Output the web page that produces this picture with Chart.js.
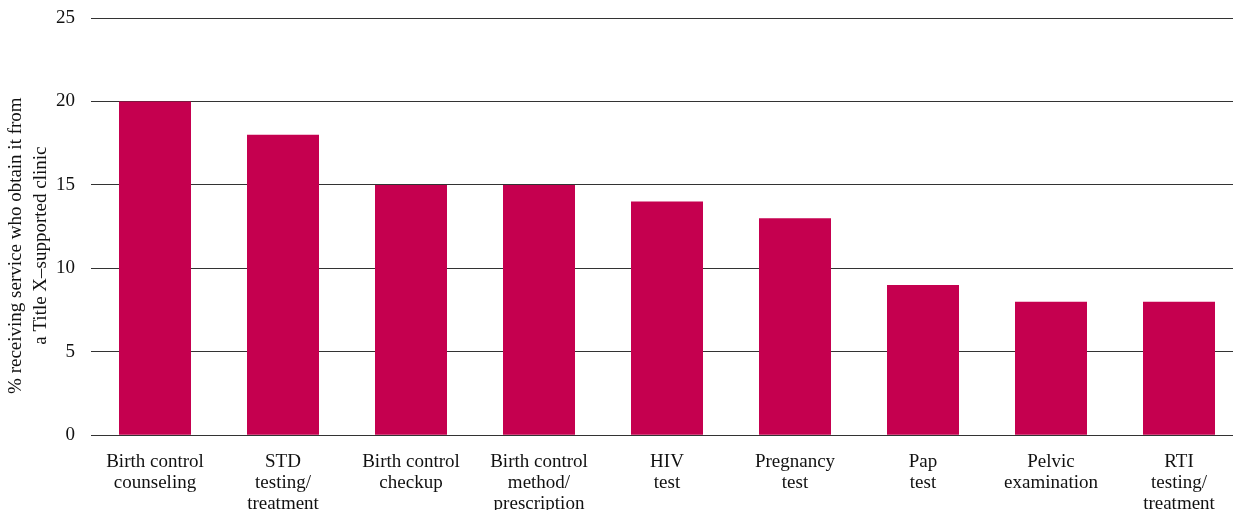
<!DOCTYPE html>
<html>
<head>
<meta charset="utf-8">
<script src="https://cdn.jsdelivr.net/npm/chart.js@4/dist/chart.umd.min.js"></script>
<style>
  html, body { margin: 0; padding: 0; background: #fff; overflow: hidden; }
  #wrap { position: relative; width: 1243px; height: 530px; }
</style>
</head>
<body>
<div id="wrap"><canvas id="serviceChart"></canvas></div>
<script>
// services and share obtained from a Title X-supported clinic
var services = [
	["Birth control", "counseling"],
	["STD", "testing/", "treatment"],
	["Birth control", "checkup"],
	["Birth control", "method/", "prescription"],
	["HIV", "test"],
	["Pregnancy", "test"],
	["Pap", "test"],
	["Pelvic", "examination"],
	["RTI", "testing/", "treatment"]
];
var percents = [20, 18, 15, 15, 14, 13, 9, 8, 8];
var yTicks = [0, 5, 10, 15, 20, 25];

var serif = "'Liberation Serif', 'DejaVu Serif', serif";
var pad = "\u2002\u2002\u2002\u2002";

var chart = new Chart(document.getElementById("serviceChart"), {
	type: 'bar',
	data: {
		labels: services,
		datasets: [{
			data: percents,
			backgroundColor: "#C5004F",
			borderWidth: 0,
			barPercentage: 0.5625,
			categoryPercentage: 1.0
		}]
	},
	options: {
		responsive: true,
		maintainAspectRatio: false,
		animation: false,
		layout: { padding: { left: 4, right: 0, top: 0, bottom: 0 } },
		plugins: {
			legend: { display: false },
			tooltip: { enabled: false }
		},
		scales: {
			x: {
				grid: { display: false, drawTicks: false },
				border: { display: false },
				ticks: {
					color: "#111",
					font: { family: serif, size: 19, lineHeight: 1.1 },
					padding: 16,
					maxRotation: 0,
					autoSkip: false
				}
			},
			y: {
				min: 0,
				max: 25,
				afterBuildTicks: function (axis) {
					axis.ticks = yTicks.map(function (v) { return { value: v }; });
				},
				afterFit: function (axis) {
					axis.width = 87;
					axis.paddingTop = 18;
					axis.paddingBottom = 0;
				},
				grid: { color: "#333", lineWidth: 1, drawTicks: false },
				border: { display: false },
				ticks: {
					color: "#111",
					font: { family: serif, size: 19 },
					padding: 16
				},
				title: {
					display: true,
					text: ["% receiving service who obtain it from" + pad, "a Title X\u2013supported clinic" + pad],
					color: "#111",
					font: { family: serif, size: 19, lineHeight: 1.3 },
					padding: { top: 0, bottom: 4 }
				}
			}
		}
	}
});
</script>
</body>
</html>
